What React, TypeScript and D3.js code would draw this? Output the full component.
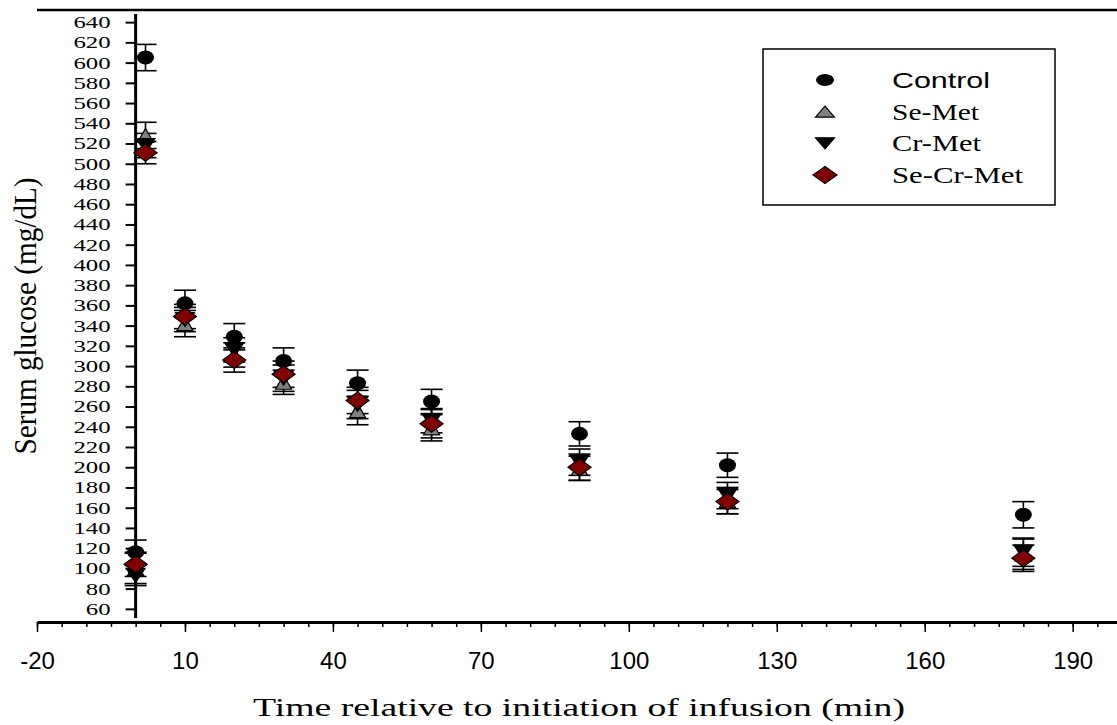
import { useEffect, useRef } from 'react';
import * as d3 from 'd3';

// ==========================================
// DATA
// ==========================================
const times = [0, 2, 10, 20, 30, 45, 60, 90, 120, 180];

const controlMean = [116, 605, 362, 329, 305, 283, 265, 233, 202, 153];
const controlErr = [12, 13, 13, 13, 13, 13, 12, 12, 12, 13];

const seMetMean = [100, 528, 342, 311, 284, 256, 239, 199, 167, 114];
const seMetErr = [15, 13, 13, 12, 12, 14, 13, 12, 13, 15];

const crMetMean = [93, 518, 346, 316, 288, 262, 246, 205, 172, 116];
const crMetErr = [10, 12, 12, 12, 13, 14, 12, 13, 13, 14];

const seCrMetMean = [104, 511, 349, 306, 292, 266, 243, 200, 166, 110];
const seCrMetErr = [12, 11, 12, 12, 13, 13, 14, 13, 12, 13];

const seriesNames = ['Control', 'Se-Met', 'Cr-Met', 'Se-Cr-Met'];

const yTickValues = [
    60, 80, 100, 120, 140, 160, 180, 200, 220, 240, 260, 280, 300, 320, 340,
    360, 380, 400, 420, 440, 460, 480, 500, 520, 540, 560, 580, 600, 620, 640,
];
const xTickValues = [-20, 10, 40, 70, 100, 130, 160, 190];

const serif = '"Liberation Serif", "Times New Roman", serif';
const sans = '"Liberation Sans", Arial, sans-serif';

// marker outline, centred on 0,0
const markerPath = (kind: string, w: number, h: number) => {
    const p = d3.path();
    if (kind === 'up') {
        p.moveTo(0, -h / 2);
        p.lineTo(w / 2, h / 2);
        p.lineTo(-w / 2, h / 2);
        p.closePath();
    } else if (kind === 'down') {
        p.moveTo(0, h / 2);
        p.lineTo(w / 2, -h / 2);
        p.lineTo(-w / 2, -h / 2);
        p.closePath();
    } else {
        p.moveTo(0, -h / 2);
        p.lineTo(w / 2, 0);
        p.lineTo(0, h / 2);
        p.lineTo(-w / 2, 0);
        p.closePath();
    }
    return p.toString();
};

const App = () => {
    const svgRef = useRef<SVGSVGElement>(null);

    useEffect(() => {
        const svg = d3.select(svgRef.current);
        svg.selectAll('*').remove();

        const series = [
            { name: seriesNames[0], mean: controlMean, err: controlErr, kind: 'circle', fill: '#000000', w: 17, h: 14, lw: 18, lh: 12 },
            { name: seriesNames[1], mean: seMetMean, err: seMetErr, kind: 'up', fill: '#808080', w: 16, h: 14, lw: 19, lh: 11 },
            { name: seriesNames[2], mean: crMetMean, err: crMetErr, kind: 'down', fill: '#000000', w: 19, h: 14, lw: 19, lh: 11 },
            { name: seriesNames[3], mean: seCrMetMean, err: seCrMetErr, kind: 'diamond', fill: '#800000', w: 23, h: 17, lw: 24, lh: 17 },
        ];

        // ==========================================
        // SCALES
        // ==========================================
        const x = d3.scaleLinear().domain([-20, 200]).range([37, 1122]);
        const y = d3.scaleLinear().domain([47, 652]).range([622, 10]);

        // top frame line
        svg.append('line')
            .attr('x1', 37).attr('x2', 1117)
            .attr('y1', 10).attr('y2', 10)
            .attr('stroke', '#000').attr('stroke-width', 2.5);

        // ==========================================
        // X AXIS
        // ==========================================
        const xMinor = svg.append('g')
            .attr('transform', 'translate(0,622)')
            .call(d3.axisBottom(x).ticks(44).tickSize(5).tickSizeOuter(0).tickFormat(() => ''));
        xMinor.select('.domain').remove();
        xMinor.selectAll('line').attr('stroke-width', 1.5);

        const xAxis = svg.append('g')
            .attr('transform', 'translate(0,622)')
            .call(
                d3.axisBottom(x)
                    .tickValues(xTickValues)
                    .tickSize(10)
                    .tickSizeOuter(0)
                    .tickPadding(20)
                    .tickFormat((d: any) => String(d))
            );
        xAxis.select('.domain').attr('stroke-width', 3);
        xAxis.selectAll('line').attr('stroke-width', 1.5);
        xAxis.selectAll('text')
            .style('font-family', sans)
            .style('font-size', '24px')
            .attr('fill', '#000');

        // ==========================================
        // Y AXIS
        // ==========================================
        const yAxis = svg.append('g')
            .attr('transform', `translate(${x(0)},0)`)
            .call(d3.axisLeft(y).tickValues(yTickValues).tickSize(10).tickSizeOuter(0).tickPadding(15));
        yAxis.select('.domain').remove();
        yAxis.selectAll('line').attr('stroke-width', 2);
        yAxis.selectAll('text')
            .style('font-family', serif)
            .style('font-size', '17px')
            .attr('fill', '#000')
            .attr('textLength', (d: any) => String(d).length * 12.4)
            .attr('lengthAdjust', 'spacingAndGlyphs');

        svg.append('line')
            .attr('x1', x(0)).attr('x2', x(0))
            .attr('y1', 14).attr('y2', 618)
            .attr('stroke', '#000').attr('stroke-width', 3);

        // axis titles
        svg.append('text')
            .attr('transform', 'translate(36,316) rotate(-90)')
            .attr('text-anchor', 'middle')
            .attr('textLength', 277)
            .attr('lengthAdjust', 'spacingAndGlyphs')
            .style('font-family', serif)
            .style('font-size', '32px')
            .text('Serum glucose (mg/dL)');

        svg.append('text')
            .attr('x', 579).attr('y', 716)
            .attr('text-anchor', 'middle')
            .attr('textLength', 652)
            .attr('lengthAdjust', 'spacingAndGlyphs')
            .style('font-family', serif)
            .style('font-size', '26px')
            .text('Time relative to initiation of infusion (min)');

        // ==========================================
        // ERROR BARS
        // ==========================================
        const cap = 11;
        series.forEach((s) => {
            const g = svg.append('g').attr('stroke', '#000').attr('stroke-width', 1.6);
            times.forEach((t, i) => {
                const cx = x(t);
                const hi = y(s.mean[i] + s.err[i]);
                const lo = y(s.mean[i] - s.err[i]);
                g.append('line').attr('x1', cx).attr('x2', cx).attr('y1', hi).attr('y2', lo);
                g.append('line').attr('x1', cx - cap).attr('x2', cx + cap).attr('y1', hi).attr('y2', hi);
                g.append('line').attr('x1', cx - cap).attr('x2', cx + cap).attr('y1', lo).attr('y2', lo);
            });
        });

        // ==========================================
        // MARKERS
        // ==========================================
        const drawMarker = (g: any, kind: string, fill: string, cx: number, cy: number, w: number, h: number) => {
            if (kind === 'circle') {
                g.append('ellipse')
                    .attr('cx', cx).attr('cy', cy)
                    .attr('rx', w / 2).attr('ry', h / 2)
                    .attr('fill', fill);
            } else {
                g.append('path')
                    .attr('d', markerPath(kind, w, h))
                    .attr('transform', `translate(${cx},${cy})`)
                    .attr('fill', fill)
                    .attr('stroke', '#000')
                    .attr('stroke-width', 1.2);
            }
        };

        series.forEach((s) => {
            const g = svg.append('g');
            times.forEach((t, i) => {
                drawMarker(g, s.kind, s.fill, x(t), y(s.mean[i]), s.w, s.h);
            });
        });

        // ==========================================
        // LEGEND
        // ==========================================
        const legend = svg.append('g');
        legend.append('rect')
            .attr('x', 763).attr('y', 49)
            .attr('width', 292).attr('height', 156)
            .attr('fill', '#fff')
            .attr('stroke', '#000')
            .attr('stroke-width', 1.5);

        const legendY = d3.scalePoint().domain(seriesNames).range([80, 175]);
        const labelLen = [98, 87, 89, 131];

        series.forEach((s, i) => {
            const ly = legendY(s.name) as number;
            drawMarker(legend, s.kind, s.fill, 825, ly, s.lw, s.lh);
            legend.append('text')
                .attr('x', 892).attr('y', ly + 8)
                .attr('textLength', labelLen[i])
                .attr('lengthAdjust', 'spacingAndGlyphs')
                .style('font-family', i === 0 ? sans : serif)
                .style('font-size', i === 0 ? '22px' : '23px')
                .text(s.name);
        });
    }, []);

    return (
        <div style={{ position: 'fixed', left: 0, top: 0, background: '#fff' }}>
            <svg ref={svgRef} width={1117} height={725} style={{ display: 'block', overflow: 'hidden' }}></svg>
        </div>
    );
};

export default App;
